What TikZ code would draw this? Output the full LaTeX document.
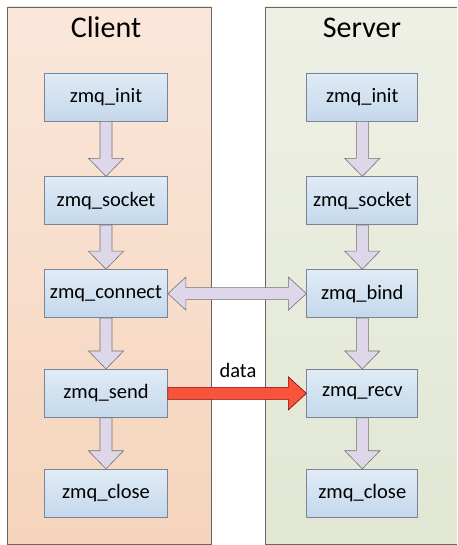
\documentclass[tikz,border=0pt]{standalone}
\usepackage{fontspec}
\setmainfont{Carlito}
\usetikzlibrary{positioning,calc}
\definecolor{cli}{RGB}{250,231,218}
\definecolor{clib}{RGB}{245,212,188}
\definecolor{srv}{RGB}{238,240,229}
\definecolor{srvb}{RGB}{225,231,211}
\definecolor{boxt}{RGB}{224,235,246}
\definecolor{boxb}{RGB}{196,216,235}
\definecolor{boxl}{RGB}{122,132,148}
\definecolor{flw}{RGB}{221,215,233}
\definecolor{dat}{RGB}{248,84,60}
% block arrows between two named boxes
\newcommand\vflow[2]{\path[flow] let \p1=(#1.south),\p2=(#2.north) in
  (\x1-6pt,\y1) -- (\x1-6pt,\y2+18pt) -- (\x1-17.5pt,\y2+18pt) -- (\x1,\y2)
  -- (\x1+17.5pt,\y2+18pt) -- (\x1+6pt,\y2+18pt) -- (\x1+6pt,\y1) -- cycle;}
\newcommand\hflow[3][flow]{\path[#1] let \p1=(#2.east),\p2=(#3.west) in
  (\x1,\y1+6pt) -- (\x2-18pt,\y1+6pt) -- (\x2-18pt,\y1+16.5pt) -- (\x2,\y1)
  -- (\x2-18pt,\y1-16.5pt) -- (\x2-18pt,\y1-6pt) -- (\x1,\y1-6pt) -- cycle;}
\newcommand\hboth[2]{\path[flow] let \p1=(#1.east),\p2=(#2.west) in
  (\x1,\y1) -- (\x1+18pt,\y1+16.5pt) -- (\x1+18pt,\y1+6pt) -- (\x2-18pt,\y1+6pt)
  -- (\x2-18pt,\y1+16.5pt) -- (\x2,\y1) -- (\x2-18pt,\y1-16.5pt) -- (\x2-18pt,\y1-6pt)
  -- (\x1+18pt,\y1-6pt) -- (\x1+18pt,\y1-16.5pt) -- cycle;}
\begin{document}
\begin{tikzpicture}[x=1pt,y=1pt,font=\fontsize{20.5}{24}\selectfont,node distance=51pt,
  panel/.style={draw=black!60,line width=0.8pt},
  fn/.style={draw=boxl,line width=0.8pt,top color=boxt,bottom color=boxb,minimum width=123pt,minimum height=48pt,inner sep=0pt},
  sfn/.style={fn,minimum width=111pt},
  flow/.style={draw=black!55,fill=flw,line width=0.6pt},
  datflow/.style={draw=red!55!black,fill=dat,line width=0.6pt},
  title/.style={font=\fontsize{30}{36}\selectfont,anchor=base}]
  \useasboundingbox (0,0) rectangle (457,545);
  \path[panel,top color=cli,bottom color=clib] (7,1) rectangle (211,538);
  \path[top color=srv,bottom color=srvb] (265,1) rectangle (457,538);
  \draw[panel] (457,538) -| (265,1) -- (457,1);
  \node[title] (ctitle) at (106,507) {Client};
  \node[title] (stitle) at (362,507) {Server};
  \node[fn] (cinit) at (106,448) {zmq\_init};
  \node[fn,below=55pt of cinit] (csock) {zmq\_socket};
  \node[fn,below=44pt of csock] (cconn) {zmq\_connect};
  \node[fn,below=of cconn] (csend) {zmq\_send};
  \node[fn,below=of csend] (cclose) {zmq\_close};
  \node[sfn,right=138.5pt of cinit] (sinit) {zmq\_init};
  \node[sfn,right=138.5pt of csock] (ssock) {zmq\_socket};
  \node[sfn,right=138.5pt of cconn] (sbind) {zmq\_bind};
  \node[sfn,right=138.5pt of csend] (srecv) {zmq\_recv};
  \node[sfn,right=138.5pt of cclose] (sclose) {zmq\_close};
  \vflow{cinit}{csock} \vflow{csock}{cconn} \vflow{cconn}{csend} \vflow{csend}{cclose}
  \vflow{sinit}{ssock} \vflow{ssock}{sbind} \vflow{sbind}{srecv} \vflow{srecv}{sclose}
  \hboth{cconn}{sbind}
  \hflow[datflow]{csend}{srecv}
  \node[anchor=base] (dlabel) at (238,167) {data};
\end{tikzpicture}
\end{document}
